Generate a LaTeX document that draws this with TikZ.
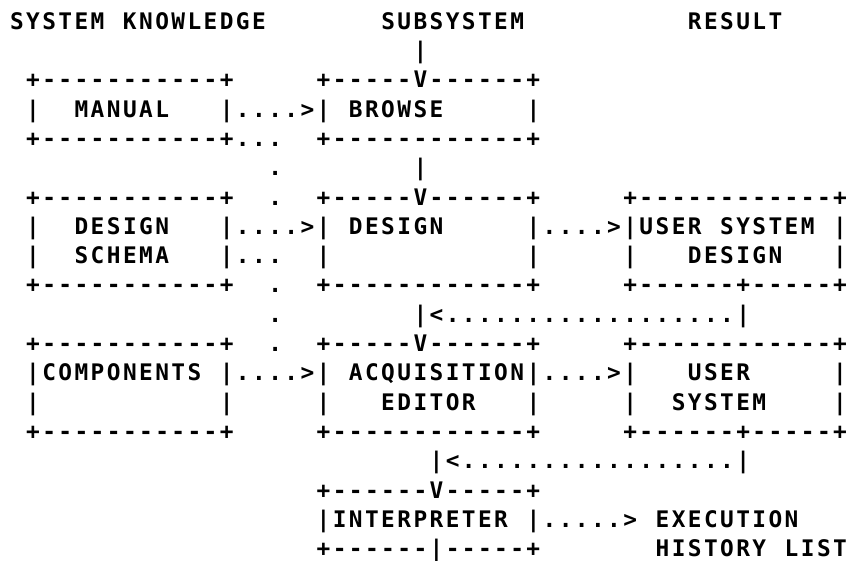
\documentclass[tikz,border=0pt]{standalone}
\usepackage{fontspec}
\newfontfamily\ascfont{DejaVu Sans Mono}
\newlength\ascpitch
\setlength\ascpitch{16.14pt}
\makeatletter
\newcommand\asc[1]{\hbox{\@tfor\asc@ch:=#1\do{\makebox[\ascpitch][c]{\asc@ch}}}}
\makeatother
\newcommand\stack[1]{\vtop{\baselineskip=29.3pt\lineskip=0pt\lineskiplimit=-\maxdimen #1}}
\tikzset{
  asc/.style={anchor=base west, inner sep=0pt, outer sep=0pt,
    font=\ascfont\bfseries\fontsize{22.8pt}{29.3pt}\selectfont},
  cr/.style 2 args={at={({8.83+16.14*(#1)},{29.3+29.3*(#2)})}}
}
\begin{document}
\begin{tikzpicture}[x=1pt,y=-1pt]
\fill[white] (0,0) rectangle (851,561);
\useasboundingbox (0,0) rectangle (851,561);
% column headings
\node[asc,cr={0}{0}] (hknow) {\asc{SYSTEM~KNOWLEDGE}};
\node[asc,cr={23}{0}] (hsub) {\asc{SUBSYSTEM}};
\node[asc,cr={42}{0}] (hres) {\asc{RESULT}};
% boxes
\node[asc,cr={1}{2}] (manual) {\stack{\asc{+-----------+}\asc{|~~MANUAL~~~|}\asc{+-----------+}}};
\node[asc,cr={19}{2}] (browse) {\stack{\asc{+-----V------+}\asc{|~BROWSE~~~~~|}\asc{+------------+}}};
\node[asc,cr={1}{6}] (schema) {\stack{\asc{+-----------+}\asc{|~~DESIGN~~~|}\asc{|~~SCHEMA~~~|}\asc{+-----------+}}};
\node[asc,cr={19}{6}] (design) {\stack{\asc{+-----V------+}\asc{|~DESIGN~~~~~|}\asc{|~~~~~~~~~~~~|}\asc{+------------+}}};
\node[asc,cr={38}{6}] (usd) {\stack{\asc{+------------+}\asc{|USER~SYSTEM~|}\asc{|~~~DESIGN~~~|}\asc{+------+-----+}}};
\node[asc,cr={1}{11}] (comp) {\stack{\asc{+-----------+}\asc{|COMPONENTS~|}\asc{|~~~~~~~~~~~|}\asc{+-----------+}}};
\node[asc,cr={19}{11}] (acq) {\stack{\asc{+-----V------+}\asc{|~ACQUISITION|}\asc{|~~~EDITOR~~~|}\asc{+------------+}}};
\node[asc,cr={38}{11}] (usys) {\stack{\asc{+------------+}\asc{|~~~USER~~~~~|}\asc{|~~SYSTEM~~~~|}\asc{+------+-----+}}};
\node[asc,cr={19}{16}] (interp) {\stack{\asc{+------V-----+}\asc{|INTERPRETER~|}\asc{+------|-----+}}};
% connectors
\node[asc,cr={25}{1}] (in-browse) {\asc{|}};
\node[asc,cr={14}{3}] (manual-browse) {\asc{....>}};
\node[asc,cr={25}{5}] (browse-design) {\asc{|}};
\node[asc,cr={14}{4}] (know-acq) {\stack{\asc{...}\asc{~~.}\asc{~~.}\asc{~}\asc{...}\asc{~~.}\asc{~~.}\asc{~~.}}};
\node[asc,cr={14}{7}] (schema-design) {\asc{....>}};
\node[asc,cr={33}{7}] (design-usd) {\asc{....>}};
\node[asc,cr={25}{10}] (usd-acq) {\asc{|<..................|}};
\node[asc,cr={14}{12}] (comp-acq) {\asc{....>}};
\node[asc,cr={33}{12}] (acq-usys) {\asc{....>}};
\node[asc,cr={26}{15}] (usys-interp) {\asc{|<.................|}};
\node[asc,cr={33}{17}] (interp-exec) {\asc{.....>}};
\node[asc,cr={40}{17}] (exec) {\stack{\asc{EXECUTION}\asc{HISTORY~LIST}}};
\end{tikzpicture}
\end{document}
